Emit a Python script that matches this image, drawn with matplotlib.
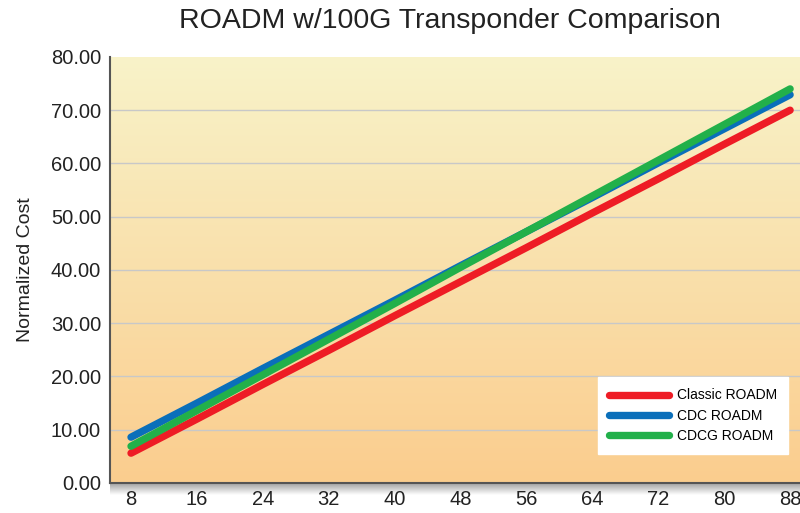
import numpy as np
import matplotlib
matplotlib.use("Agg")
import matplotlib.pyplot as plt
from matplotlib.colors import LinearSegmentedColormap

channels = [8, 16, 24, 32, 40, 48, 56, 64, 72, 80, 88]
classic = [5.6, 12.0, 18.5, 24.9, 31.4, 37.8, 44.2, 50.7, 57.1, 63.6, 70.0]
cdc = [8.6, 15.0, 21.5, 27.9, 34.3, 40.8, 47.2, 53.6, 60.1, 66.5, 72.9]
cdcg = [6.9, 13.6, 20.3, 27.0, 33.7, 40.5, 47.2, 53.9, 60.6, 67.3, 74.0]
labels = ["Classic ROADM", "CDC ROADM", "CDCG ROADM"]
colors = ["#ee1c25", "#0a6fba", "#22b04a"]

plt.rcParams['font.family'] = ['Liberation Sans', 'DejaVu Sans']

fig = plt.figure(figsize=(8, 5.13), dpi=100)
ax = fig.add_axes([0.1375, 0.0585, 0.8625, 0.8305])

# background gradient of the plot area
bg = LinearSegmentedColormap.from_list("bg", ["#fbcd8e", "#f8f3c9"])
grad = np.linspace(0, 1, 256).reshape(-1, 1)
ax.imshow(grad, cmap=bg, origin="lower", aspect="auto",
          extent=[5.45, 89.2, 0, 80], zorder=0)

for y in range(10, 80, 10):
    ax.axhline(y, color="#c8c8c8", lw=1, zorder=1)

for vals, lab, col in zip([classic, cdc, cdcg], labels, colors):
    ax.plot(channels, vals, color=col, lw=5.3, label=lab,
            solid_capstyle="round", zorder=3)

ax.set_xlim(5.45, 89.2)
ax.set_ylim(0, 80)
ax.set_xticks(channels)
ax.set_yticks(range(0, 81, 10))
ax.set_yticklabels(["%.2f" % v for v in range(0, 81, 10)])
ax.tick_params(length=0, labelsize=14.5, colors="#222222")
ax.tick_params(axis="y", pad=6.5)
ax.tick_params(axis="x", pad=5)
for s in ["top", "right"]:
    ax.spines[s].set_visible(False)
ax.spines["left"].set_color("#555555")
ax.spines["bottom"].set_color("#555555")
ax.spines["left"].set_linewidth(1.5)
ax.spines["bottom"].set_linewidth(1.5)

ax.set_ylabel("Normalized Cost", fontsize=14, color="#222222", labelpad=12)
fig.text(0.5625, 0.96, "ROADM w/100G Transponder Comparison", fontsize=20.5,
         ha="center", va="center", color="#222222")

# shadow below x axis
sh = fig.add_axes([0.1375, 0.035, 0.8625, 0.0235])
shade = LinearSegmentedColormap.from_list("sh", ["#ffffff", "#9a9a9a"])
sh.imshow(np.linspace(0, 1, 64).reshape(-1, 1), cmap=shade, origin="lower",
          aspect="auto")
sh.set_axis_off()
sh.set_zorder(-1)

leg = ax.legend(loc="lower right", bbox_to_anchor=(0.983, 0.068),
                frameon=True, fancybox=False, fontsize=10, handlelength=4.3,
                handletextpad=0.6, borderpad=0.8, labelspacing=0.45,
                borderaxespad=0)
leg.get_frame().set_edgecolor("white")
leg.get_frame().set_facecolor("white")
leg.get_frame().set_alpha(1)

fig.savefig("out.png", dpi=100)
